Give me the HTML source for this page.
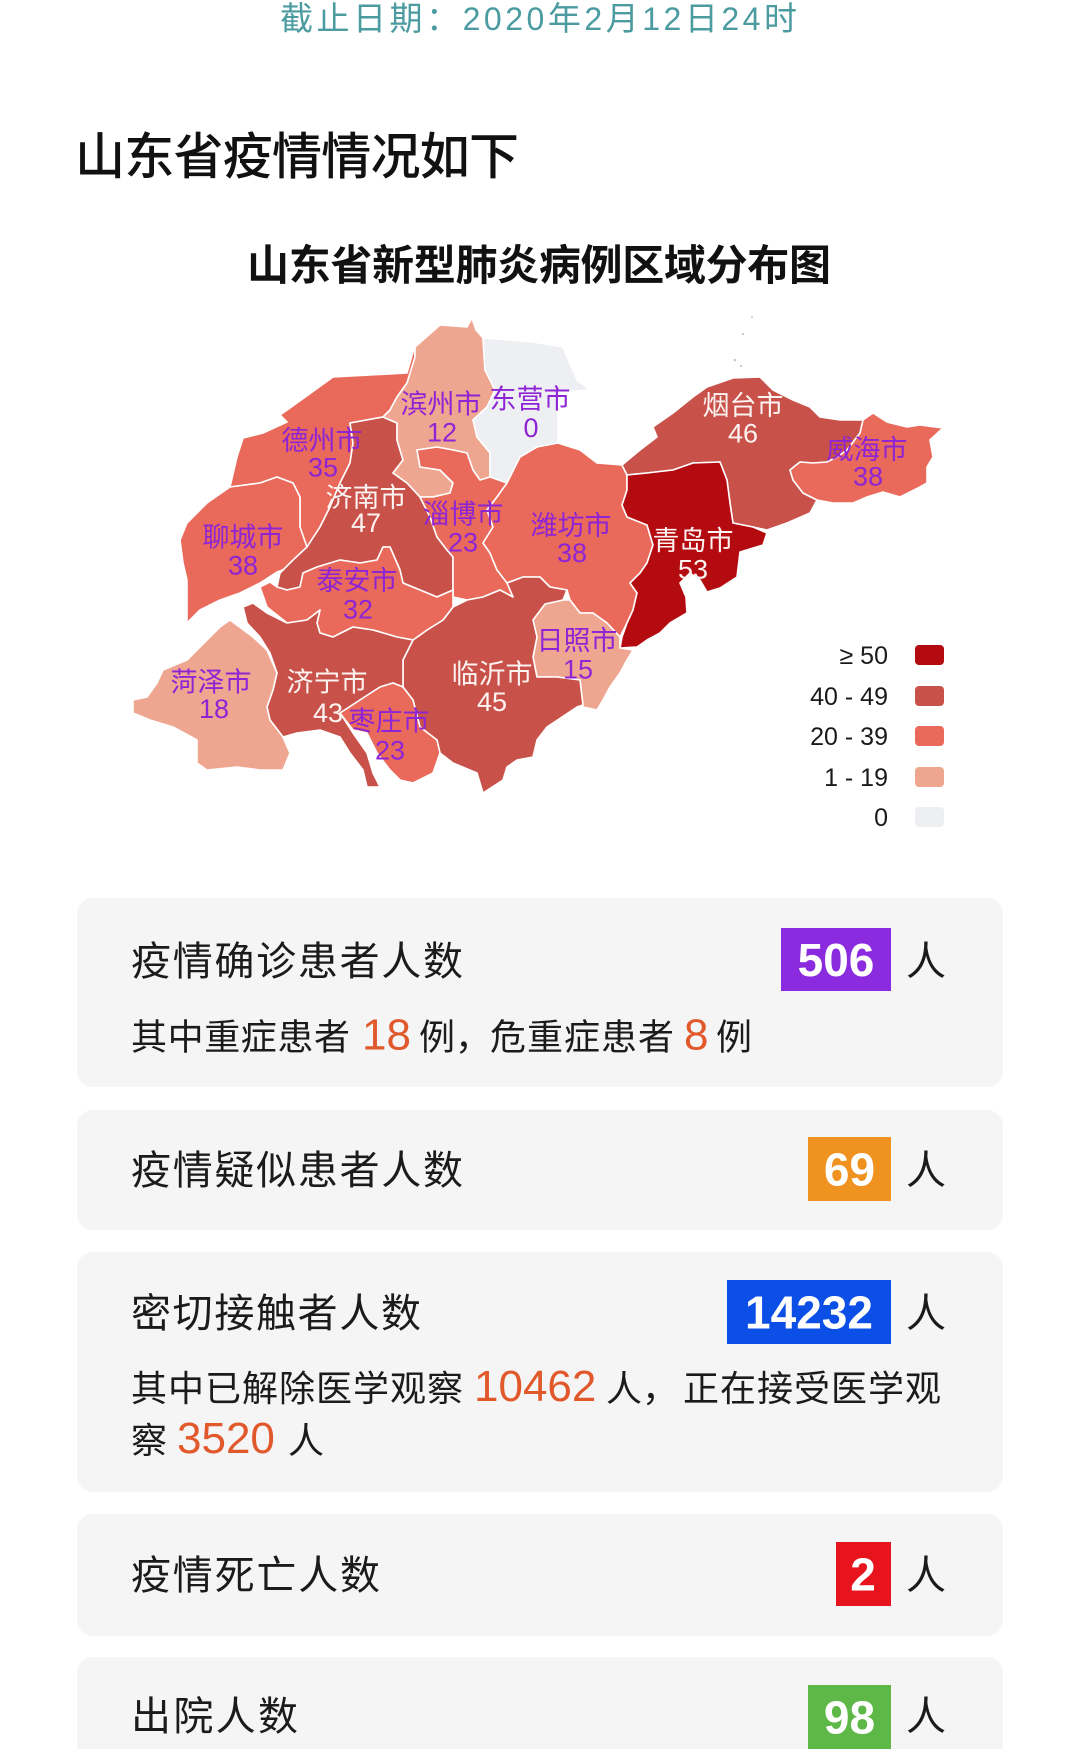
<!DOCTYPE html>
<html><head><meta charset="utf-8"><style>
html,body{margin:0;padding:0;background:#fff;}
body{width:1080px;height:1749px;overflow:hidden;}
svg{display:block;}
text{font-family:"Liberation Sans","Noto Sans CJK SC",sans-serif;}
</style></head><body>
<svg width="1080" height="1749" viewBox="0 0 1080 1749" xmlns="http://www.w3.org/2000/svg">
<rect width="1080" height="1749" fill="#fff"/>
<!-- header -->
<text x="280" y="30" font-size="33" fill="#4b9ba1" textLength="517" lengthAdjust="spacing">截止日期：<tspan font-size="32">2020</tspan>年<tspan font-size="32">2</tspan>月<tspan font-size="32">12</tspan>日<tspan font-size="32">24</tspan>时</text>
<text x="75" y="174" font-size="50" font-weight="500" fill="#111" textLength="444" lengthAdjust="spacing">山东省疫情情况如下</text>
<text x="247" y="280" font-size="42" font-weight="bold" fill="#111" textLength="584" lengthAdjust="spacing">山东省新型肺炎病例区域分布图</text>

<!-- map -->
<g stroke="#fff" stroke-width="1.6" stroke-linejoin="round">
<polygon fill="#e96a5a" points="280,415 290,408 333,377 407,373 415,345 415,357 407,383 397,397 390,410 383,417 350,423 353,443 350,463 340,483 330,507 320,527 307,547 305,556 300,527 300,497 293,483 277,477 260,483 230,487 237,457 243,438 263,433 287,422"/>
<polygon fill="#e96a5a" points="230,487 260,483 277,477 293,483 300,497 300,527 307,547 305,556 297,565 277,572 260,583 240,593 220,600 200,610 187,623 187,580 183,563 180,540 187,523 207,503"/>
<polygon fill="#c8524a" points="383,417 397,423 397,440 403,460 393,473 407,483 420,497 430,517 437,537 447,550 453,557 453,590 437,597 420,590 403,583 400,570 390,547 383,547 377,560 360,563 340,560 317,567 303,573 300,587 287,590 277,587 280,573 293,560 307,547 320,527 330,507 340,483 350,463 353,443 350,423"/>
<polygon fill="#efa690" points="415,347 440,325 467,327 472,318 476,330 483,338 485,370 495,390 487,407 473,420 477,437 490,453 490,477 480,480 473,470 467,453 453,450 437,447 417,450 420,467 440,470 453,483 450,493 433,497 420,497 407,483 393,473 403,460 397,440 397,423 383,417 390,410 397,397 407,383 415,357"/>
<polygon fill="#eeeff2" points="483,338 533,342 563,347 577,380 590,390 558,392 558,443 537,447 520,457 507,483 490,477 490,453 477,437 473,420 487,407 495,390 485,370"/>
<polygon fill="#e96a5a" points="417,450 437,447 453,450 467,453 473,470 480,480 490,477 507,483 497,497 487,510 493,527 483,543 490,553 497,570 510,583 513,597 500,590 483,597 467,600 453,597 453,557 447,550 437,537 430,517 420,497 433,497 450,493 453,483 440,470 420,467"/>
<polygon fill="#e96a5a" points="507,483 520,457 537,447 558,443 580,450 597,463 622,465 627,475 627,490 622,505 627,517 647,525 653,545 647,563 640,573 630,583 637,593 633,610 627,623 620,637 607,623 593,613 580,613 570,600 567,590 550,587 540,577 523,577 507,583 497,570 490,553 483,543 493,527 487,510 497,497"/>
<polygon fill="#c8524a" points="622,465 640,450 657,437 653,427 673,413 693,397 707,387 733,378 760,377 773,390 793,400 810,407 820,417 840,420 863,420 860,433 847,450 837,457 827,462 813,463 800,462 790,470 793,480 803,493 817,500 810,513 787,523 767,530 753,527 733,523 730,503 727,480 720,462 693,463 673,470 647,473 627,475"/>
<polygon fill="#e96a5a" points="863,420 873,413 887,422 907,427 920,425 943,428 930,440 933,457 927,467 927,483 920,487 900,497 883,492 867,497 853,503 833,503 817,500 803,493 793,480 790,470 800,462 813,463 827,462 837,457 847,450 860,433"/>
<polygon fill="#b30b10" points="627,475 647,473 673,470 693,463 720,462 727,480 730,503 733,523 753,527 767,533 763,545 740,552 737,577 720,588 707,592 700,580 690,573 680,583 686,597 687,613 670,623 660,633 647,640 637,647 620,648 622,637 627,623 633,610 637,593 630,583 640,573 647,563 653,545 647,525 627,517 622,505 627,490"/>
<polygon fill="#efa690" points="545,604 563,600 570,600 580,613 593,613 607,623 620,637 620,648 633,650 627,660 620,673 610,687 603,700 597,710 583,707 580,680 557,677 537,677 533,657 537,637 533,620"/>
<polygon fill="#c8524a" points="403,660 413,640 427,630 443,620 453,607 467,600 483,597 500,590 513,597 507,583 523,577 540,577 550,587 567,590 563,600 545,604 533,620 537,637 533,657 537,677 557,677 580,680 583,705 577,707 547,727 537,740 533,757 517,760 507,767 503,780 483,793 477,773 453,763 440,753 437,740 420,727 413,700 403,687"/>
<polygon fill="#e96a5a" points="260,587 267,607 287,623 307,620 320,610 317,623 320,633 333,637 353,627 373,630 397,637 413,640 427,630 443,620 453,607 453,590 437,597 420,590 403,583 400,570 390,547 383,547 377,560 360,563 340,560 317,567 303,573 300,587 287,590 277,587 270,582"/>
<polygon fill="#c8524a" points="243,607 253,603 267,613 287,623 307,620 320,610 317,623 320,633 333,637 353,627 373,630 397,637 413,640 403,660 403,687 393,683 380,687 360,700 340,713 353,733 367,753 373,773 380,787 367,787 363,770 350,753 340,737 320,730 297,733 283,737 270,720 267,707 273,690 277,673 270,653 260,637 247,623"/>
<polygon fill="#e96a5a" points="340,713 360,700 380,687 393,683 403,687 413,700 420,727 437,740 440,753 433,773 413,783 400,780 390,770 377,753 367,733 353,730"/>
<polygon fill="#efa690" points="230,620 253,637 267,650 277,673 273,690 267,707 270,720 283,737 290,753 283,770 260,770 237,767 207,770 197,763 197,740 173,727 150,720 133,713 133,700 147,697 157,683 163,670 187,660 207,640 220,627"/>
</g>
<g fill="#c9c9cc">
<circle cx="735" cy="360" r="1.3"/><circle cx="741" cy="366" r="1.1"/><circle cx="743" cy="334" r="1.1"/><circle cx="752" cy="317" r="1"/>
</g>

<!-- map labels -->
<g font-size="27" text-anchor="middle" fill="#8e24d4">
<text x="441" y="413.5">滨州市</text><text x="442" y="441.7">12</text>
<text x="530" y="408.5">东营市</text><text x="531" y="437">0</text>
<text x="322" y="450">德州市</text><text x="323" y="476.5">35</text>
<text x="463" y="523.5">淄博市</text><text x="463" y="551.5">23</text>
<text x="571" y="535">潍坊市</text><text x="572" y="562">38</text>
<text x="243" y="546.5">聊城市</text><text x="243" y="574.5">38</text>
<text x="867" y="459">威海市</text><text x="868" y="485.5">38</text>
<text x="357" y="590">泰安市</text><text x="358" y="618.5">32</text>
<text x="211" y="691.5">菏泽市</text><text x="214" y="718">18</text>
<text x="389" y="730.5">枣庄市</text><text x="390" y="759.5">23</text>
<text x="577" y="650">日照市</text><text x="578" y="678.5">15</text>
</g>
<g font-size="27" text-anchor="middle" fill="#fdf3f1">
<text x="366" y="507">济南市</text><text x="366" y="532">47</text>
<text x="743" y="415">烟台市</text><text x="743" y="442.5">46</text>
<text x="693" y="550">青岛市</text><text x="693" y="578.5">53</text>
<text x="327" y="691.5">济宁市</text><text x="328" y="722">43</text>
<text x="492" y="683.5">临沂市</text><text x="492" y="711">45</text>
</g>

<!-- legend -->
<g font-size="25" text-anchor="end" fill="#1a1a1a">
<text x="888" y="664">≥ 50</text>
<text x="888" y="705">40 - 49</text>
<text x="888" y="745">20 - 39</text>
<text x="888" y="786">1 - 19</text>
<text x="888" y="826">0</text>
</g>
<rect x="915" y="645" width="29" height="20" rx="4" fill="#b30b10"/>
<rect x="915" y="686" width="29" height="20" rx="4" fill="#c8524a"/>
<rect x="915" y="726" width="29" height="20" rx="4" fill="#e96a5a"/>
<rect x="915" y="767" width="29" height="20" rx="4" fill="#efa690"/>
<rect x="915" y="807" width="29" height="20" rx="4" fill="#eeeff2"/>

<!-- cards -->
<g fill="#f5f5f6">
<rect x="77" y="898" width="926" height="189" rx="16"/>
<rect x="77" y="1110" width="926" height="120" rx="16"/>
<rect x="77" y="1252" width="926" height="240" rx="16"/>
<rect x="77" y="1514" width="926" height="122" rx="16"/>
<rect x="77" y="1657" width="926" height="130" rx="16"/>
</g>

<!-- card labels -->
<g font-size="40" fill="#1b1b1b">
<text x="131" y="975" textLength="332" lengthAdjust="spacing">疫情确诊患者人数</text>
<text x="131" y="1184" textLength="332" lengthAdjust="spacing">疫情疑似患者人数</text>
<text x="131" y="1327" textLength="290" lengthAdjust="spacing">密切接触者人数</text>
<text x="131" y="1589" textLength="249" lengthAdjust="spacing">疫情死亡人数</text>
<text x="131" y="1730" textLength="167" lengthAdjust="spacing">出院人数</text>
<text x="906" y="975">人</text>
<text x="906" y="1184">人</text>
<text x="906" y="1327">人</text>
<text x="906" y="1589">人</text>
<text x="906" y="1730">人</text>
</g>

<!-- number boxes -->
<rect x="781" y="928" width="110" height="63" fill="#8b2be0"/>
<rect x="808" y="1137" width="83" height="64" fill="#f0921f"/>
<rect x="727" y="1280" width="164" height="64" fill="#0b4fe6"/>
<rect x="836" y="1542" width="55" height="64" fill="#e7141e"/>
<rect x="808" y="1685" width="83" height="64" fill="#5db847"/>
<g font-size="46" font-weight="bold" fill="#fff" text-anchor="middle">
<text x="836" y="976">506</text>
<text x="849.5" y="1185.5">69</text>
<text x="809" y="1328.5">14232</text>
<text x="863" y="1590.5">2</text>
<text x="849.5" y="1733.5">98</text>
</g>

<!-- sub lines -->
<g font-size="36" fill="#1b1b1b">
<text x="131" y="1049.5" textLength="219" lengthAdjust="spacing">其中重症患者</text>
<text x="419" y="1049.5">例，</text>
<text x="490" y="1049.5" textLength="184" lengthAdjust="spacing">危重症患者</text>
<text x="716" y="1049.5">例</text>
<text x="131" y="1401" textLength="332" lengthAdjust="spacing">其中已解除医学观察</text>
<text x="606" y="1401">人，</text>
<text x="683" y="1401" textLength="258" lengthAdjust="spacing">正在接受医学观</text>
<text x="131" y="1453">察</text>
<text x="288" y="1453">人</text>
</g>
<g font-size="44" fill="#e1582b">
<text x="362" y="1049.5">18</text>
<text x="684" y="1049.5">8</text>
<text x="474" y="1401">10462</text>
<text x="177" y="1453">3520</text>
</g>
</svg>
</body></html>
